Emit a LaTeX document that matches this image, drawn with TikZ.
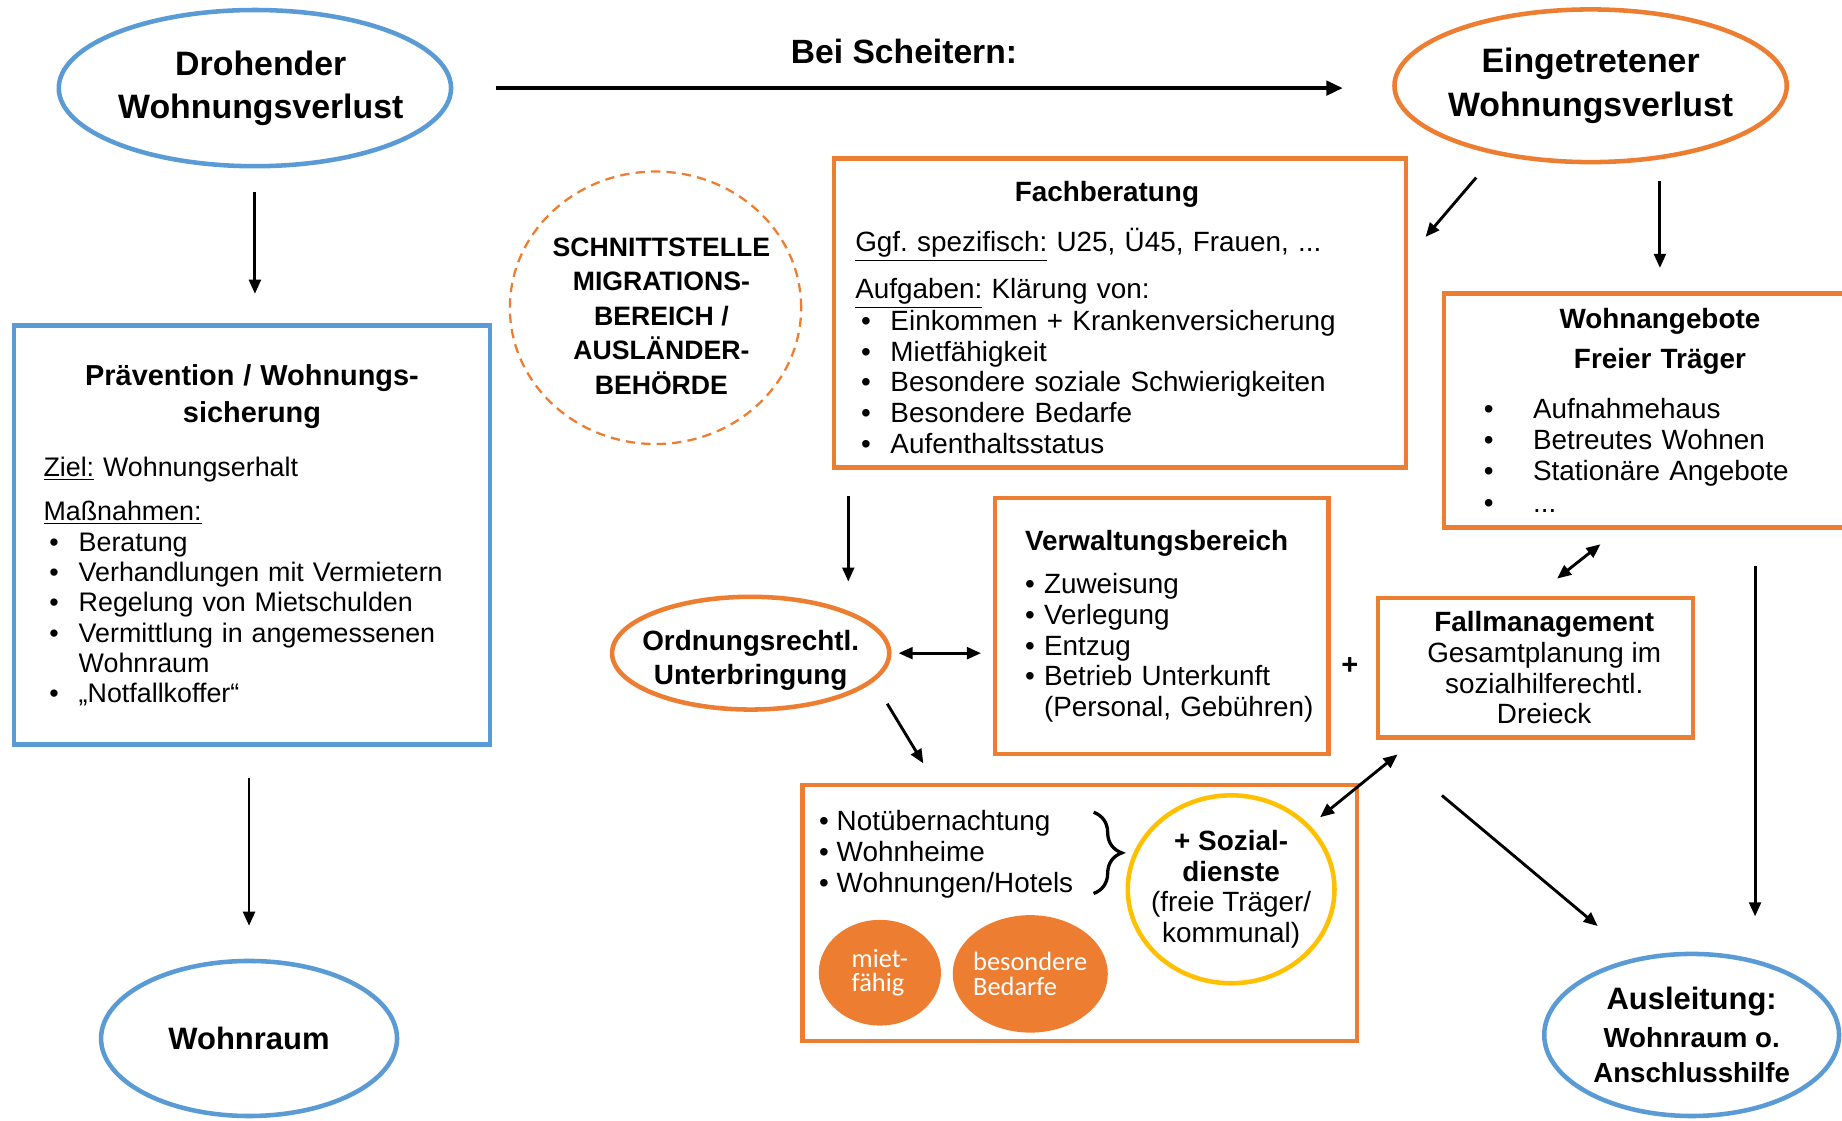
\documentclass[tikz,border=0pt]{standalone}
\usepackage{fontspec}
\setmainfont{Liberation Sans}
\newfontfamily\calib{Carlito}
\usetikzlibrary{shapes.geometric, arrows.meta, calc, positioning, decorations.pathreplacing}

\definecolor{blau}{HTML}{5B9BD5}
\definecolor{orng}{HTML}{ED7D31}
\definecolor{gelb}{HTML}{FFC000}

\newcommand{\pkt}{\makebox[0.6cm][l]{\hspace{0.1cm}\textbullet}}
\newcommand{\wpkt}{\makebox[0.84cm][l]{\textbullet}}
\frenchspacing

\begin{document}
\begin{tikzpicture}[x = 0.02cm, y = -0.02cm,
    oval/.style = {ellipse, draw, line width = 2.2pt, inner sep = -0.5cm, align = center},
    kasten/.style = {rectangle, draw = orng, line width = 2.2pt, inner ysep = 0pt},
    arr/.style = {-{Triangle[length = 0.24cm, width = 0.2cm]}, line width = 1.4pt},
    darr/.style = {{Triangle[length = 0.24cm, width = 0.2cm]}-{Triangle[length = 0.24cm, width = 0.2cm]}, line width = 1.4pt}]

    \def\grund{\fontsize{13.5}{14.9}\selectfont}

    \clip[use as bounding box] (0,0) rectangle (1568,954);
    \fill[white] (0,0) rectangle (1568,954);

    \node[oval, draw = blau, minimum width = 6.68cm, minimum height = 2.66cm,
          font = \fontsize{16.4}{21}\selectfont\bfseries] (droh) at (217,75)
          {\hspace*{0.2cm}Drohender\\\hspace*{0.2cm}Wohnungsverlust};
    \node[oval, draw = orng, minimum width = 6.68cm, minimum height = 2.6cm,
          font = \fontsize{16.4}{21}\selectfont\bfseries] (eing) at (1354,73)
          {Eingetretener\\Wohnungsverlust};
    \node[oval, draw = blau, minimum width = 5.04cm, minimum height = 2.64cm,
          font = \fontsize{15}{18}\selectfont\bfseries] (wohn) at (212,884) {Wohnraum};
    \node[oval, draw = blau, minimum width = 5.02cm, minimum height = 2.76cm,
          font = \fontsize{13.4}{17}\selectfont\bfseries] (ausl) at (1440,881)
          {{\fontsize{15}{17}\selectfont Ausleitung:}\\[1pt]Wohnraum o.\\Anschlusshilfe};
    \node[oval, draw = orng, minimum width = 4.72cm, minimum height = 1.92cm,
          font = \fontsize{13.5}{16.4}\selectfont\bfseries] (ordn) at (639,556)
          {\rule{0pt}{16.5pt}Ordnungsrechtl.\\Unterbringung};
    \node[oval, draw = orng, line width = 1.1pt, dash pattern = on 4.5pt off 3pt,
          minimum width = 4.96cm, minimum height = 4.64cm,
          font = \fontsize{12.9}{16.7}\selectfont\bfseries] (schn) at (558,262)
          {\rule{0pt}{17pt}\hspace*{0.2cm}SCHNITTSTELLE\\\hspace*{0.2cm}MIGRATIONS-\\
           \hspace*{0.2cm}BEREICH /\\\hspace*{0.2cm}AUSLÄNDER-\\\hspace*{0.2cm}BEHÖRDE};

    \node[kasten, draw = blau, minimum width = 8.1cm, minimum height = 7.14cm,
          inner xsep = 0.5cm, text width = 7.1cm, align = left,
          font = \fontsize{13}{14.6}\selectfont] (praev) at (214.5,455.5)
          {\makebox[\linewidth]{\fontsize{14}{18}\selectfont\bfseries Prävention / Wohnungs-}\\[3.5pt]
           \makebox[\linewidth]{\fontsize{14}{18}\selectfont\bfseries sicherung}\\[11.5pt]
           \underline{Ziel:} Wohnungserhalt\\[6.4pt]
           \underline{Maßnahmen:}\\[0.7pt]
           \pkt Beratung\\
           \pkt Verhandlungen mit Vermietern\\
           \pkt Regelung von Mietschulden\\
           \pkt Vermittlung in angemessenen\\
           \hspace*{0.6cm}Wohnraum\\
           \pkt „Notfallkoffer“};

    \node[kasten, minimum width = 9.74cm, minimum height = 5.26cm,
          inner xsep = 0.36cm, text width = 9.02cm, align = left, font = \grund] (fach) at (953.5,266.5)
          {\makebox[\linewidth]{\rule{0pt}{14pt}\bfseries Fachberatung\hspace*{0.45cm}}\\[9.5pt]
           \underline{Ggf. spezifisch:} U25, Ü45, Frauen, ...\\[7.8pt]
           \underline{Aufgaben:} Klärung von:\\[0.4pt]
           \pkt Einkommen + Krankenversicherung\\
           \pkt Mietfähigkeit\\
           \pkt Besondere soziale Schwierigkeiten\\
           \pkt Besondere Bedarfe\\
           \pkt Aufenthaltsstatus};

    \node[kasten, minimum width = 7.36cm, minimum height = 3.98cm,
          inner xsep = 0.68cm, text width = 6cm, align = left, font = \grund] (wang) at (1413,349.5)
          {\makebox[\linewidth]{\bfseries Wohnangebote}\\[4.4pt]
           \makebox[\linewidth]{\bfseries Freier Träger}\\[9.5pt]
           \wpkt Aufnahmehaus\\
           \wpkt Betreutes Wohnen\\
           \wpkt Stationäre Angebote\\[1pt]
           \wpkt ...};

    \node[kasten, minimum width = 5.68cm, minimum height = 4.36cm,
          inner xsep = 0.38cm, text width = 4.92cm, align = left, font = \grund] (verw) at (989,533)
          {\hspace*{0.13cm}\textbf{Verwaltungsbereich}\\[6.1pt]
           \hspace*{0.13cm}\textbullet\ Zuweisung\\
           \hspace*{0.13cm}\textbullet\ Verlegung\\
           \hspace*{0.13cm}\textbullet\ Entzug\\
           \hspace*{0.13cm}\textbullet\ Betrieb Unterkunft\\
           \hspace*{0.13cm}\mbox{\phantom{\textbullet\ }(Personal, Gebühren)}};

    \node[kasten, minimum width = 5.36cm, minimum height = 2.38cm,
          inner xsep = 0.2cm, align = center, font = \grund] (fall) at (1307,568.5)
          {\hspace*{0.3cm}\textbf{Fallmanagement}\\\hspace*{0.3cm}Gesamtplanung im\\
           \hspace*{0.3cm}sozialhilferechtl.\\\hspace*{0.3cm}Dreieck};

    \node[font = \fontsize{14}{14}\selectfont\bfseries] (plus) at (1149,567) {+};

    \node[kasten, minimum width = 9.44cm, minimum height = 4.36cm] (unterk) at (919,777) {};
    \node[anchor = west, inner sep = 0pt, align = left, font = \grund] (ulist) at (697,727)
          {\textbullet\ Notübernachtung\\\textbullet\ Wohnheime\\\textbullet\ Wohnungen/Hotels};
    \draw[line width = 1.6pt, decorate, decoration = {brace, amplitude = 0.48cm}]
          ([xshift = 0.34cm, yshift = -0.04cm]ulist.north east) --
          ([xshift = 0.34cm, yshift = 0.08cm]ulist.south east);
    \node[oval, draw = gelb, minimum width = 3.52cm, minimum height = 3.2cm, font = \grund] (sozd) at (1048,757)
          {\textbf{+ Sozial-}\\\textbf{dienste}\\(freie Träger/\\kommunal)};
    \node[oval, draw = none, fill = orng, minimum width = 2.08cm, minimum height = 1.8cm,
          align = left, text = white, font = \calib\fontsize{12.8}{12}\selectfont] (miet) at (749,828)
          {miet-\\fähig};
    \node[oval, draw = none, fill = orng, minimum width = 2.64cm, minimum height = 2cm,
          align = left, text = white, font = \calib\fontsize{12.8}{12}\selectfont] (besd) at (877,829)
          {besondere\\Bedarfe};

    \draw[-{Triangle[length = 0.28cm, width = 0.24cm]}, line width = 2.2pt,
          shorten <= 0.72cm, shorten >= 0.84cm] (droh.east) -- (droh.east -| eing.west)
          node[pos = 0.48, above = 0.26cm, font = \fontsize{16.3}{18}\selectfont\bfseries] (bei) {Bei Scheitern:};
    \draw[arr, shorten <= 0.4cm, shorten >= 0.5cm] (droh.south) -- (droh.south |- praev.north);
    \draw[arr, shorten <= 0.52cm, shorten >= 0.56cm] (wohn.north |- praev.south) -- (wohn.north);
    \draw[arr, shorten <= 0.51cm, shorten >= 0.45cm] (eing.216) -- (fach.11);
    \draw[arr, shorten <= 0.28cm, shorten >= 0.4cm] (wang.north |- eing.south) -- (wang.north);
    \draw[arr, shorten <= 0.44cm, shorten >= 0.22cm] ([xshift = 0.28cm]fach.south west) --
          ([xshift = 0.28cm]fach.south west |- ordn.north);
    \draw[darr, shorten <= 0.12cm, shorten >= 0.2cm] (ordn.east) -- (ordn.east -| verw.west);
    \draw[arr, shorten <= 0.44cm, shorten >= 0.38cm] (ordn.347) -- (unterk.138);
    \draw[darr, shorten <= 0.4cm, shorten >= 0.47cm] (wang.251) -- (fall.north);
    \draw[arr, shorten <= 0.62cm, shorten >= 0.6cm] ([xshift = 1.62cm]wang.south) --
          ([xshift = 1.62cm]wang.south |- ausl.north);
    \draw[darr, shorten <= 0.22cm, shorten >= 0.39cm] (sozd.39) -- (fall.211);
    \draw[arr, shorten <= 1.47cm, shorten >= 0.84cm] (fall.south west) -- (ausl.126);

\end{tikzpicture}
\end{document}
